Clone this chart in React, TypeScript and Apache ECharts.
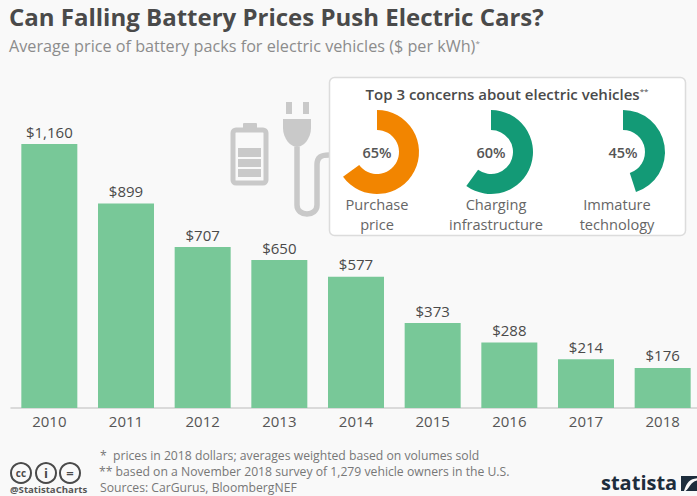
import React, { useEffect, useRef } from "react";
import * as echarts from "echarts";

const years = ["2010", "2011", "2012", "2013", "2014", "2015", "2016", "2017", "2018"];
const prices = [1160, 899, 707, 650, 577, 373, 288, 214, 176];
const concernNames = ["Purchase\nprice", "Charging\ninfrastructure", "Immature\ntechnology"];
const concernValues = [65, 60, 45];
const concernColors = ["#f28500", "#139a76", "#139a76"];
const concernCenters = [377, 491, 623];
const concernLabelX = [377, 496, 617];

const FONT = "'Open Sans', sans-serif";
const GREY = "#c9c9c9";
const cableD = "M0 0 L0 58 C0 70 20 70 20 58 L20 18 C20 10 24 8 32 8";
const plugD = "M0 0 L28 0 L28 9 C28 20 20 28 14 28 C8 28 0 20 0 9 Z";
const logoD = "M0 0 L22 0 L22 3 C12 4 8 8 4 20 L0 20 Z M22 6 L22 20 L6 20 C12 16 12 8 22 6 Z";

export default function App() {
  const ref = useRef<HTMLDivElement>(null);
  useEffect(() => {
    document.body.style.margin = "0";
    echarts.graphic.registerShape("cable", echarts.graphic.extendPath(cableD, {}) as any);
    echarts.graphic.registerShape("plughead", echarts.graphic.extendPath(plugD, {}) as any);
    echarts.graphic.registerShape("statlogo", echarts.graphic.extendPath(logoD, {}) as any);
    const chart = echarts.init(ref.current!, undefined, { renderer: "svg" });
    const txt = (x: number, y: number, text: string, fontSize: number, fill: string, extra: any = {}, align = "left") => ({
      type: "text", x, y,
      style: { text, fontSize, fill, fontFamily: FONT, textAlign: align, textVerticalAlign: "middle", ...extra },
    });
    const solid = (x: number, y: number, width: number, height: number, r = 0) => ({
      type: "rect", shape: { x, y, width, height, r }, style: { fill: GREY },
    });
    const cc = (cx: number, text: string, size: number) => [
      { type: "circle", shape: { cx, cy: 473, r: 10 }, style: { fill: "none", stroke: "#4a4a4a", lineWidth: 2 } },
      txt(cx, 473, text, size, "#4a4a4a", { fontWeight: "bold" }, "center"),
    ];
    chart.setOption({
      animation: false,
      backgroundColor: "#f9f9f9",
      title: {
        text: "Can Falling Battery Prices Push Electric Cars?",
        subtext: "Average price of battery packs for electric vehicles ($ per kWh){s|*}",
        left: 9, top: 4, itemGap: 10, padding: 0,
        textStyle: { fontFamily: FONT, fontSize: 24, fontWeight: "bold", color: "#4a4a4a" },
        subtextStyle: {
          fontFamily: FONT, fontSize: 16.2, color: "#8c8c8c",
          rich: { s: { fontFamily: FONT, fontSize: 8, color: "#8c8c8c", verticalAlign: "top", padding: [0, 0, 6, 0] } },
        },
      },
      grid: { left: 11, top: 144, width: 690, height: 264, containLabel: false, outerBoundsMode: "none" },
      xAxis: {
        type: "category", data: years,
        axisTick: { show: false },
        axisLine: { lineStyle: { color: "#cfcfcf", width: 1.5 } },
        axisLabel: { color: "#555", fontFamily: FONT, fontSize: 15, margin: 5 },
      },
      yAxis: { type: "value", min: 0, max: 1160, show: false },
      series: [
        {
          type: "bar", data: prices, barWidth: 56, silent: true,
          itemStyle: { color: "#78c898" },
          label: {
            show: true, position: "top", distance: 5, color: "#4a4a4a",
            fontFamily: FONT, fontSize: 15,
            formatter: (p: any) => "$" + Number(p.value).toLocaleString("en-US"),
          },
        },
        ...concernValues.map((v, i) => ({
          type: "pie", silent: true, center: [concernCenters[i], 152], radius: [22, 42],
          startAngle: 90, clockwise: true,
          label: { show: false }, labelLine: { show: false },
          data: [
            {
              value: v, name: concernNames[i], itemStyle: { color: concernColors[i] },
              label: {
                show: true, position: "center", formatter: "{c}%",
                color: "#555", fontFamily: FONT, fontSize: 14.5, fontWeight: 600,
              },
            },
            { value: 100 - v, name: "rest", itemStyle: { color: "transparent" } },
          ],
        })),
      ],
      graphic: {
        elements: [
          // battery
          { type: "rect", shape: { x: 233, y: 130, width: 33, height: 53, r: 3 }, style: { fill: "none", stroke: GREY, lineWidth: 5 } },
          solid(243, 123, 14, 6, 1),
          solid(238, 148, 23, 9), solid(238, 159, 23, 8), solid(238, 169, 23, 8),
          // plug
          solid(286, 102, 6, 12), solid(303, 102, 6, 12),
          { type: "plughead", x: 283, y: 119, style: { fill: GREY } },
          { type: "cable", x: 297, y: 147, style: { fill: "none", stroke: GREY, lineWidth: 5.5 } },
          // panel
          { type: "rect", shape: { x: 329.5, y: 77.5, width: 356, height: 158, r: 5 }, style: { fill: "#fff", stroke: "#dcdcdc", lineWidth: 1.5 } },
          {
            type: "text", x: 507, y: 94,
            style: {
              text: "Top 3 concerns about electric vehicles{s|**}", fontSize: 15, fontWeight: 600, fill: "#4a4a4a",
              fontFamily: FONT, textAlign: "center", textVerticalAlign: "middle",
              rich: { s: { fontSize: 8, fontFamily: FONT, fill: "#4a4a4a", verticalAlign: "top", padding: [0, 0, 6, 0] } },
            },
          },
          ...concernNames.map((n, i) =>
            txt(concernLabelX[i], 213.5, n, 14.6, "#666", { lineHeight: 20 }, "center")),
          // footer
          txt(100, 455, "*", 12.2, "#777"),
          txt(113, 455, "prices in 2018 dollars; averages weighted based on volumes sold", 12.2, "#777"),
          txt(99, 471, "** based on a November 2018 survey of 1,279 vehicle owners in the U.S.", 12.2, "#777"),
          txt(100, 487.5, "Sources: CarGurus, BloombergNEF", 12.2, "#777"),
          ...cc(21, "cc", 10), ...cc(46, "i", 13), ...cc(70, "=", 13),
          txt(10, 489, "@StatistaCharts", 9.6, "#555", { fontWeight: "bold" }),
          txt(601, 482, "statista", 20, "#1d2d3c", { fontWeight: "bold" }),
          { type: "statlogo", x: 681, y: 476, scaleX: 0.75, scaleY: 0.75, style: { fill: "#1d2d3c" } },
        ],
      },
    });
    return () => chart.dispose();
  }, []);
  return <div ref={ref} style={{ width: 697, height: 496 }} />;
}
